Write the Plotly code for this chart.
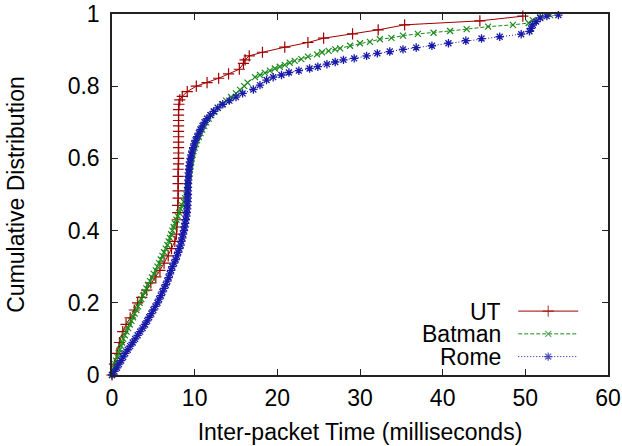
import plotly.graph_objects as go

# ---------------- data ----------------
ut_x = [0.0, 0.3, 0.6, 0.9, 1.3, 1.7, 2.2, 2.7, 3.1, 3.6, 4.2, 4.7, 5.3, 5.8, 6.3, 6.8, 7.2, 7.6,
        7.8, 7.85, 7.9, 7.95, 7.95, 8.0, 8.0, 8.0, 8.0, 8.0, 8.05, 8.05, 8.05, 8.05, 8.05, 8.05,
        8.05, 8.05, 8.05, 8.05, 8.05, 8.1, 8.2, 8.5, 9.1, 10.2, 11.5, 12.9, 14.1, 15.4, 15.9,
        16.1, 16.6, 18.2, 20.9, 23.7, 25.6, 29.1, 32.2, 35.4, 44.5, 49.7]
ut_y = [0.0, 0.03, 0.06, 0.09, 0.12, 0.14, 0.158, 0.18, 0.2, 0.215, 0.235, 0.255, 0.272, 0.29,
        0.31, 0.33, 0.35, 0.37, 0.39, 0.41, 0.43, 0.45, 0.47, 0.49, 0.51, 0.53, 0.55, 0.57,
        0.585, 0.6, 0.615, 0.63, 0.645, 0.66, 0.675, 0.69, 0.705, 0.72, 0.735, 0.75, 0.762,
        0.772, 0.785, 0.8, 0.81, 0.822, 0.834, 0.847, 0.863, 0.873, 0.884, 0.894, 0.908, 0.921,
        0.933, 0.945, 0.956, 0.97, 0.981, 0.994]

batman_x = [0.0, 0.12, 0.25, 0.38, 0.5, 0.65, 0.8, 0.95, 1.1, 1.22, 1.35, 1.55, 1.75, 1.95, 2.15,
            2.35, 2.55, 2.75, 2.95, 3.15, 3.35, 3.55, 3.75, 3.95, 4.15, 4.35, 4.6, 4.85, 5.05,
            5.3, 5.5, 5.7, 5.9, 6.1, 6.3, 6.5, 6.7, 6.85, 7.0, 7.15, 7.3, 7.45, 7.6, 7.8, 7.95,
            8.1, 8.3, 8.5, 8.7, 8.85, 9.0, 9.1, 9.15, 9.2, 9.25, 9.3, 9.35, 9.42, 9.5, 9.57,
            9.65, 9.75, 9.85, 10.0, 10.15, 10.3, 10.5, 10.7, 10.9, 11.15, 11.4, 11.7, 12.0,
            12.4, 12.8, 13.3, 13.8, 14.4, 15.0, 15.5, 16.0, 16.4,
            17.3, 17.9, 18.5, 19.1, 19.7, 20.3, 20.9, 21.5, 22.1, 22.9, 23.7, 24.8, 25.4, 26.2,
            27.0, 27.6, 28.8, 30.0, 31.2, 32.4, 33.8, 35.2, 37.0, 38.9, 40.9, 42.9, 45.5, 48.5,
            50.4, 50.9, 51.8, 53.0]
batman_y = [0.0, 0.01, 0.02, 0.03, 0.04, 0.05, 0.06, 0.07, 0.08, 0.09, 0.1, 0.11, 0.12, 0.13,
            0.14, 0.15, 0.16, 0.17, 0.18, 0.19, 0.2, 0.21, 0.22, 0.23, 0.24, 0.25, 0.26, 0.27,
            0.28, 0.29, 0.3, 0.31, 0.32, 0.33, 0.34, 0.35, 0.36, 0.37, 0.38, 0.39, 0.4, 0.41,
            0.42, 0.43, 0.44, 0.45, 0.46, 0.47, 0.48, 0.49, 0.5, 0.51, 0.52, 0.53, 0.54, 0.55,
            0.56, 0.57, 0.58, 0.59, 0.6, 0.61, 0.62, 0.63, 0.64, 0.65, 0.66, 0.67, 0.68, 0.69,
            0.7, 0.71, 0.72, 0.73, 0.74, 0.75, 0.76, 0.77, 0.78, 0.79, 0.8, 0.81,
            0.825, 0.831, 0.837, 0.843, 0.849, 0.854, 0.859, 0.865, 0.87, 0.875, 0.882, 0.888,
            0.894, 0.898, 0.902, 0.905, 0.912, 0.919, 0.923, 0.93, 0.934, 0.94, 0.945, 0.948,
            0.953, 0.958, 0.965, 0.97, 0.975, 0.983, 0.991, 0.997]

rome_x = [0.0, 0.3, 0.6, 0.85, 1.1, 1.35, 1.6, 1.9, 2.2, 2.5, 2.8, 3.1, 3.4, 3.7, 4.0, 4.25, 4.5,
          4.75, 5.0, 5.25, 5.5, 5.7, 5.9, 6.1, 6.3, 6.5, 6.7, 6.85, 7.0, 7.15, 7.3, 7.5, 7.7,
          7.85, 8.0, 8.15, 8.3, 8.4, 8.5, 8.6, 8.7, 8.78, 8.85, 8.92, 9.0, 9.05, 9.1, 9.12, 9.15,
          9.17, 9.18, 9.18, 9.19, 9.2, 9.22, 9.25, 9.28, 9.32, 9.37, 9.43, 9.5, 9.6, 9.7, 9.82,
          9.95, 10.1, 10.3, 10.5, 10.7, 10.95, 11.2, 11.5, 11.9, 12.3, 12.8, 13.4, 14.2, 15.0,
          15.8, 17.1, 17.9, 18.7, 19.5, 20.5, 21.4, 22.6, 23.9, 24.9, 26.0, 27.0, 28.0, 29.3,
          30.8, 32.1, 33.6, 35.2, 36.8, 38.7, 40.7, 42.8, 44.7, 46.9, 49.5, 50.5, 50.7, 50.9,
          51.3, 51.8, 52.6, 54.0]
rome_y = [0.0, 0.01, 0.02, 0.03, 0.04, 0.05, 0.06, 0.07, 0.08, 0.09, 0.1, 0.11, 0.12, 0.13, 0.14,
          0.15, 0.16, 0.17, 0.18, 0.19, 0.2, 0.21, 0.22, 0.23, 0.24, 0.25, 0.26, 0.27, 0.28,
          0.29, 0.3, 0.31, 0.32, 0.33, 0.34, 0.35, 0.36, 0.37, 0.38, 0.39, 0.4, 0.41, 0.42, 0.43,
          0.44, 0.45, 0.46, 0.47, 0.48, 0.49, 0.5, 0.51, 0.52, 0.53, 0.54, 0.55, 0.56, 0.57,
          0.58, 0.59, 0.6, 0.61, 0.62, 0.63, 0.64, 0.65, 0.66, 0.67, 0.68, 0.69, 0.7, 0.71, 0.72,
          0.73, 0.74, 0.75, 0.76, 0.77, 0.78, 0.791, 0.803, 0.817, 0.825, 0.831, 0.838, 0.843,
          0.849, 0.854, 0.861, 0.867, 0.873, 0.877, 0.884, 0.891, 0.896, 0.902, 0.907, 0.912,
          0.919, 0.926, 0.932, 0.937, 0.944, 0.952, 0.96, 0.97, 0.979, 0.989, 0.994, 0.997]

series_names = ["UT", "Batman", "Rome"]
x_ticks = [0, 10, 20, 30, 40, 50, 60]
y_ticks = [0, 0.2, 0.4, 0.6, 0.8, 1]
y_tick_labels = ["0", "0.2", "0.4", "0.6", "0.8", "1"]

# ---------------- styles ----------------
FONT = "Liberation Sans, Arial, sans-serif"
FS = 23
styles = [
    dict(color="#a00000", dash="solid", symbol="cross-thin", size=8, lw=1.2),
    dict(color="#1b8a1b", dash="4px,2px", symbol="x-thin", size=6, lw=1.2),
    dict(color="#1a1aa8", dash="1px,2px", symbol="asterisk", size=7, lw=1.3),
]
datas = [(ut_x, ut_y), (batman_x, batman_y), (rome_x, rome_y)]

fig = go.Figure()
for (xs, ys), st, name in zip(datas, styles, series_names):
    fig.add_trace(go.Scatter(
        x=xs, y=ys, mode="lines+markers", name=name, showlegend=False,
        cliponaxis=False,
        line=dict(color=st["color"], width=1, dash=st["dash"]),
        marker=dict(symbol=st["symbol"], size=st["size"], color=st["color"],
                    line=dict(color=st["color"], width=st["lw"])),
    ))

# ---------------- manual legend (text left of the sample) ----------------
leg_rows = [0.177, 0.114, 0.051]
leg_x0, leg_x1, leg_tx = 0.819, 0.940, 0.786
for row, st, name in zip(leg_rows, styles, series_names):
    fig.add_trace(go.Scatter(
        x=[leg_x0, (leg_x0 + leg_x1) / 2, leg_x1], y=[row, row, row],
        xaxis="x2", yaxis="y2", mode="lines+markers", showlegend=False,
        hoverinfo="skip", cliponaxis=False,
        line=dict(color=st["color"], width=1, dash=st["dash"]),
        marker=dict(symbol=st["symbol"], size=[0, st["size"], 0], color=st["color"],
                    line=dict(color=st["color"], width=st["lw"])),
    ))
    fig.add_annotation(x=leg_tx, y=row, xref="paper", yref="paper", text=name,
                       showarrow=False, xanchor="right", yanchor="middle",
                       borderpad=0, height=21,
                       font=dict(family=FONT, size=FS, color="black"))

axis_common = dict(
    showline=True, linecolor="#222222", linewidth=1.5, mirror="ticks",
    ticks="inside", ticklen=6, tickwidth=1, tickcolor="#222222",
    showgrid=False, zeroline=False, automargin=False,
    tickfont=dict(family=FONT, size=FS, color="black"),
)

fig.update_layout(
    template="none",
    width=622, height=446,
    margin=dict(l=112, r=14, t=14, b=71),
    paper_bgcolor="white", plot_bgcolor="white",
    font=dict(family=FONT, size=FS, color="black"),
    showlegend=False,
    xaxis=dict(range=[0, 60], tickvals=x_ticks, ticktext=[str(v) for v in x_ticks],
               ticklabelstandoff=2,
               title=dict(text="Inter-packet Time (milliseconds)", standoff=14,
                          font=dict(family=FONT, size=FS)),
               **axis_common),
    yaxis=dict(range=[0, 1], tickvals=y_ticks, ticktext=y_tick_labels,
               ticklabelstandoff=6,
               title=dict(text="Cumulative Distribution", standoff=37,
                          font=dict(family=FONT, size=FS)),
               **axis_common),
    xaxis2=dict(range=[0, 1], overlaying="x", anchor="y2", visible=False, fixedrange=True),
    yaxis2=dict(range=[0, 1], overlaying="y", anchor="x2", visible=False, fixedrange=True),
)

fig.write_html("out.html")
